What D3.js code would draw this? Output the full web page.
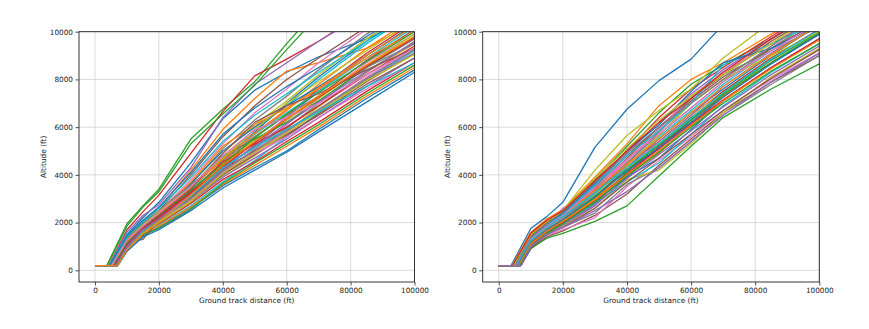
<!DOCTYPE html>
<html>
<meta http-equiv="content-type" content="text/html; charset=utf-8" />
<head>
    <title>Altitude profiles</title>
</head>

<style>
body { margin: 0; background: #fff; }
.axis text {
  font: 7.3px "DejaVu Sans", sans-serif;
  fill: #222;
}
.axis path { display: none; }
.axis line { stroke: #222; stroke-width: 0.8; }
.grid line { stroke: #d0d0d0; stroke-width: 0.8; }
.frame { fill: none; stroke: #222; stroke-width: 0.9; }
.label { font: 7.4px "DejaVu Sans", sans-serif; fill: #222; }
.track { fill: none; stroke-width: 1.3; stroke-linejoin: round; }
</style>

<svg class="chart"></svg>
<script src="https://d3js.org/d3.v7.min.js"></script>

<script type="text/javascript">
  // distances (ft) at which each profile altitude is sampled, after the take-off roll
  var gridX = [10000, 15000, 20000, 30000, 40000, 50000, 60000, 70000, 85000, 100000, 115000];
  var xTicks = [0, 20000, 40000, 60000, 80000, 100000];
  var yTicks = [0, 2000, 4000, 6000, 8000, 10000];
  var groundAlt = 200;

  // each row: [take-off roll end (ft), altitude at each gridX (ft)]
  var leftTracks = [
    [4600, 1500, 2200, 2850, 4500, 6350, 7550, 8300, 8950, 9700, 10600, 11600],
    [5000, 1350, 2050, 2600, 4200, 5900, 7200, 8350, 8700, 9300, 10400, 11500],
    [3700, 1950, 2700, 3400, 5500, 6750, 7900, 9500, 11000, 12600, 14000, 15500],
    [4300, 1700, 2450, 3150, 4900, 6650, 8150, 8850, 9600, 10900, 12000, 13100],
    [4400, 1600, 2300, 2750, 4300, 6400, 7800, 8700, 9600, 10800, 11900, 13000],
    [5200, 1300, 2000, 2500, 4000, 5600, 6900, 8000, 8900, 10200, 11300, 12500],
    [5500, 1200, 1950, 2450, 3800, 5300, 6600, 7600, 8700, 10100, 11400, 12600],
    [5800, 1150, 1900, 2350, 3600, 5100, 6300, 7300, 8400, 9900, 11200, 12400],
    [6000, 1100, 1850, 2300, 3500, 4900, 6100, 7100, 8200, 9700, 11000, 12200],
    [6200, 1050, 1800, 2250, 3400, 4700, 5900, 6900, 8000, 9500, 10800, 12000],
    [5400, 1250, 1900, 2400, 3550, 4600, 5800, 7000, 8100, 9600, 10900, 12100],
    [6500, 1000, 1750, 2200, 3300, 4500, 5700, 6700, 7800, 9300, 10600, 11800],
    [3800, 1850, 2650, 3300, 5300, 6550, 7750, 9250, 10700, 12300, 13800, 15200],
    [6800, 900, 1700, 2150, 3200, 4400, 5600, 6500, 7600, 9100, 10400, 11600],
    [5600, 1150, 1850, 2300, 3250, 4300, 5400, 6400, 7500, 9000, 10300, 11600],
    [6000, 1100, 1800, 2250, 3100, 4200, 5250, 6300, 7300, 8800, 10100, 11400],
    [6300, 1000, 1750, 2200, 3000, 4100, 5100, 6100, 7200, 8700, 9900, 11200],
    [6600, 950, 1650, 2100, 2950, 4000, 4950, 5950, 7000, 8500, 9700, 11000],
    [7000, 850, 1600, 2000, 2850, 3900, 4800, 5800, 6850, 8300, 9500, 10800],
    [7200, 800, 1500, 1900, 2700, 3700, 4600, 5600, 6600, 8000, 9200, 10500],
    [7000, 800, 1450, 1800, 2600, 3550, 4300, 5000, 5900, 7200, 8400, 9700],
    [6800, 850, 1500, 1850, 2650, 3600, 4400, 5200, 6000, 7300, 8500, 9800],
    [6400, 950, 1500, 1750, 2550, 3650, 4500, 5300, 6100, 7400, 8600, 9900],
    [6100, 1000, 1600, 1950, 2800, 3800, 4550, 5400, 6200, 7500, 8700, 10000],
    [5900, 1100, 1650, 2050, 2900, 3900, 4700, 5500, 6400, 7700, 8900, 10200],
    [5700, 1150, 1300, 2100, 2950, 4000, 4850, 5650, 6550, 7900, 9100, 10400],
    [5300, 1250, 1700, 2200, 3050, 4150, 5000, 5800, 6700, 8100, 9300, 10600],
    [4900, 1350, 1800, 2300, 3150, 4300, 5200, 6000, 6900, 8300, 9600, 10900],
    [4700, 1450, 1900, 2400, 3350, 4500, 5450, 6300, 7200, 8600, 9900, 11200],
    [4500, 1500, 2000, 2500, 3500, 4750, 5700, 6600, 7500, 8900, 10200, 11500],
    [5100, 1300, 1950, 2450, 3650, 5000, 6000, 6900, 7700, 9000, 10300, 11600],
    [5400, 1250, 1900, 2400, 3700, 5200, 6100, 6800, 7600, 8900, 10000, 11200],
    [5700, 1150, 1850, 2350, 3450, 4800, 5500, 6200, 7100, 8500, 9800, 11100],
    [6000, 1100, 1750, 2250, 3300, 4550, 5300, 6000, 6900, 8200, 9400, 10600],
    [6300, 1050, 1700, 2200, 3200, 4350, 5150, 5900, 6700, 8000, 9100, 10300],
    [6600, 950, 1650, 2150, 3050, 4250, 5000, 5700, 6500, 7800, 8900, 10100],
    [6900, 900, 1600, 2050, 2950, 4100, 4900, 5600, 6400, 7600, 8700, 9900],
    [5000, 1300, 1950, 2500, 3600, 4600, 5600, 6500, 7300, 8500, 9500, 10600],
    [5200, 1250, 1900, 2450, 3500, 4700, 5900, 7000, 7900, 9200, 10500, 11800],
    [4800, 1400, 2050, 2600, 3900, 5400, 6500, 7400, 8300, 9600, 10800, 12000],
    [4600, 1450, 2100, 2650, 4100, 5700, 6800, 7700, 8500, 9800, 11000, 12200],
    [5500, 1200, 1850, 2350, 3450, 4650, 5750, 6750, 7650, 9000, 10250, 11500],
    [5800, 1150, 1800, 2300, 3350, 4450, 5550, 6550, 7450, 8750, 10000, 11300],
    [6100, 1050, 1750, 2200, 3250, 4350, 5350, 6350, 7250, 8550, 9750, 11000],
    [6400, 1000, 1700, 2150, 3150, 4250, 5200, 6150, 7050, 8350, 9550, 10800],
    [5900, 1100, 1800, 2300, 3400, 4900, 6200, 6900, 7400, 8400, 9300, 10300],
    [5300, 1250, 1850, 2400, 3500, 4800, 5900, 6400, 7000, 8200, 9300, 10400],
    [6700, 900, 1650, 2100, 3000, 4150, 5050, 5850, 6750, 8050, 9250, 10500],
    [7100, 800, 1550, 2000, 2900, 4050, 4950, 5750, 6650, 7950, 9050, 10300],
    [7000, 850, 1600, 2050, 3100, 4300, 5150, 5900, 6650, 7700, 8700, 9800],
    [6900, 800, 1400, 1700, 2500, 3450, 4200, 4950, 5800, 7050, 8300, 9550],
    [7000, 850, 1550, 2050, 3150, 4400, 5400, 6350, 7300, 8600, 9800, 11000]
  ];

  var rightTracks = [
    [3850, 1750, 2250, 2850, 5150, 6750, 7950, 8850, 10300, 11800, 13200, 14600],
    [4200, 1600, 2150, 2550, 3900, 5300, 6900, 8000, 8700, 9900, 11000, 12200],
    [4800, 1450, 2050, 2450, 3800, 5200, 6600, 7800, 8600, 9700, 10800, 12000],
    [5000, 1400, 2000, 2400, 3700, 5000, 6400, 7600, 8500, 9800, 11000, 12300],
    [5200, 1350, 1950, 2350, 3600, 4900, 6200, 7400, 8400, 9700, 10900, 12200],
    [5400, 1300, 1900, 2300, 3500, 4800, 6000, 7200, 8200, 9600, 10800, 12100],
    [5600, 1250, 1850, 2600, 3450, 4600, 5800, 7000, 8000, 9400, 10700, 12000],
    [5800, 1200, 1800, 2200, 3300, 4500, 5700, 6800, 7900, 9300, 10600, 11900],
    [4500, 1500, 2100, 2500, 4200, 5650, 6700, 7600, 8900, 10400, 11800, 13200],
    [6000, 1150, 1750, 2150, 3200, 4400, 5600, 6700, 7800, 9200, 10500, 11800],
    [6200, 1100, 1700, 2100, 3100, 4300, 5500, 6600, 7600, 9000, 10300, 11600],
    [6400, 1050, 1650, 2050, 3000, 4200, 5400, 6500, 7500, 8900, 10100, 11400],
    [6600, 1000, 1600, 2000, 2900, 4100, 5300, 6400, 7400, 8800, 10000, 11300],
    [6800, 950, 1550, 1950, 2800, 4000, 5200, 6300, 7300, 8700, 9900, 11100],
    [7000, 900, 1500, 1850, 2700, 3900, 5000, 6100, 7100, 8500, 9700, 10900],
    [6500, 950, 1400, 1650, 2300, 3200, 4400, 5500, 6600, 7900, 9000, 10100],
    [6300, 1000, 1450, 1700, 2200, 3500, 4600, 5600, 6700, 8000, 9100, 10200],
    [6000, 1050, 1500, 1800, 2400, 3600, 4300, 5400, 6500, 7800, 9000, 10200],
    [5800, 1100, 1550, 1850, 2600, 3800, 4200, 5300, 6600, 8100, 9300, 10500],
    [5500, 1200, 1650, 1950, 2800, 3700, 4500, 5700, 6900, 8300, 9500, 10700],
    [5300, 1250, 1700, 2000, 2900, 3900, 4700, 5900, 7100, 8500, 9700, 10900],
    [5100, 1300, 1800, 2100, 3000, 4000, 4900, 6100, 7300, 8700, 9900, 11100],
    [6700, 900, 1350, 1550, 2050, 2700, 3950, 5200, 6400, 7600, 8650, 9700],
    [4900, 1350, 1850, 2200, 3100, 4200, 5100, 6300, 7500, 8900, 10100, 11300],
    [4700, 1400, 1900, 2300, 3300, 4400, 5400, 6500, 7700, 9100, 10300, 11500],
    [5600, 1250, 1800, 2250, 3400, 4700, 6000, 7100, 8100, 9300, 10400, 11500],
    [5900, 1150, 1750, 2200, 3300, 4600, 5900, 7300, 8300, 9500, 10600, 11700],
    [6100, 1100, 1700, 2150, 3250, 4500, 5800, 7200, 8200, 9200, 10200, 11300],
    [6300, 1050, 1650, 2100, 3150, 4350, 5650, 7000, 8000, 9000, 10000, 11100],
    [5200, 1300, 1900, 2350, 3550, 4800, 5850, 7000, 8600, 9500, 10400, 11400],
    [5000, 1350, 1950, 2400, 3650, 5000, 6100, 7500, 8700, 9300, 10300, 11400],
    [5700, 1200, 1800, 2250, 3350, 4450, 5500, 6600, 7700, 9050, 10300, 11500],
    [6100, 1100, 1700, 2100, 3050, 4200, 5250, 6300, 7350, 8700, 9950, 11200],
    [6400, 1050, 1650, 2000, 2950, 4050, 5100, 6150, 7150, 8500, 9700, 10900],
    [6700, 1000, 1550, 1900, 2750, 3850, 4850, 5850, 6850, 8200, 9400, 10600],
    [6900, 950, 1500, 1800, 2600, 3700, 4700, 5700, 6700, 8050, 9250, 10450],
    [5400, 1300, 1850, 2300, 3450, 4650, 5700, 6800, 7900, 9200, 10400, 11600],
    [5000, 1400, 1950, 2450, 3700, 4900, 6000, 7000, 8000, 9400, 10700, 12000],
    [4600, 1500, 2050, 2500, 3850, 5100, 6300, 7300, 8200, 9500, 10800, 12100],
    [5500, 1250, 1800, 2250, 3250, 4300, 5300, 6350, 7450, 8850, 10100, 11300],
    [5900, 1150, 1700, 2100, 3100, 4150, 5150, 6200, 7250, 8650, 9900, 11100],
    [6200, 1100, 1650, 2050, 2950, 4000, 5000, 6050, 7100, 8450, 9650, 10850],
    [6600, 1000, 1550, 1950, 2850, 3950, 4950, 6000, 7000, 8350, 9500, 10700],
    [4300, 1550, 2100, 2500, 3750, 5000, 6200, 7200, 8300, 9700, 11000, 12300],
    [7000, 1000, 1500, 1800, 2500, 3300, 4300, 5400, 6500, 7900, 9100, 10300]
  ];

  var colors = ["#1f77b4", "#ff7f0e", "#2ca02c", "#d62728", "#9467bd",
                "#8c564b", "#e377c2", "#7f7f7f", "#bcbd22", "#17becf"];

  var width = 869, height = 329;
  var panels = [
    {tracks: leftTracks, x0: 79, x1: 414.5, ylabelX: 43.5},
    {tracks: rightTracks, x0: 482.7, x1: 819.3, ylabelX: 447.5}
  ];
  var plotTop = 31.7, plotBottom = 282;

  var svg = d3.select(".chart")
    .attr("width", width)
    .attr("height", height);

  function toPoints(row) {
    var pts = [[0, groundAlt], [row[0], groundAlt]];
    for (var i = 0; i < gridX.length; i++) pts.push([gridX[i], row[i + 1]]);
    return pts;
  }

  panels.forEach(function(p, k) {
    var xScale = d3.scaleLinear().domain([-5000, 100000]).range([p.x0, p.x1]);
    var yScale = d3.scaleLinear().domain([-490, 10000]).range([plotBottom, plotTop]);

    var g = svg.append("g");

    // grid
    g.append("g").attr("class", "grid")
      .selectAll("line").data(xTicks).enter().append("line")
      .attr("x1", function(d) { return xScale(d); })
      .attr("x2", function(d) { return xScale(d); })
      .attr("y1", plotTop).attr("y2", plotBottom);
    g.append("g").attr("class", "grid")
      .selectAll("line").data(yTicks).enter().append("line")
      .attr("y1", function(d) { return yScale(d); })
      .attr("y2", function(d) { return yScale(d); })
      .attr("x1", p.x0).attr("x2", p.x1);

    g.append("clipPath").attr("id", "clip" + k)
      .append("rect")
      .attr("x", p.x0).attr("y", plotTop)
      .attr("width", p.x1 - p.x0).attr("height", plotBottom - plotTop);

    var line = d3.line()
      .x(function(d) { return xScale(d[0]); })
      .y(function(d) { return yScale(d[1]); });

    g.append("g").attr("clip-path", "url(#clip" + k + ")")
      .selectAll("path").data(p.tracks).enter().append("path")
      .attr("class", "track")
      .attr("stroke", function(d, i) { return colors[i % 10]; })
      .attr("d", function(d) { return line(toPoints(d)); });

    g.append("rect").attr("class", "frame")
      .attr("x", p.x0).attr("y", plotTop)
      .attr("width", p.x1 - p.x0).attr("height", plotBottom - plotTop);

    g.append("g").attr("class", "x axis")
      .attr("transform", "translate(0," + plotBottom + ")")
      .call(d3.axisBottom(xScale).tickValues(xTicks).tickFormat(d3.format("d"))
        .tickSize(3.5).tickPadding(2.5));

    g.append("g").attr("class", "y axis")
      .attr("transform", "translate(" + p.x0 + ",0)")
      .call(d3.axisLeft(yScale).tickValues(yTicks).tickFormat(d3.format("d"))
        .tickSize(3.5).tickPadding(2.5));

    g.append("text").attr("class", "label")
      .attr("x", (p.x0 + p.x1) / 2).attr("y", 303)
      .style("text-anchor", "middle")
      .text("Ground track distance (ft)");

    g.append("text").attr("class", "label")
      .attr("transform", "translate(" + p.ylabelX + "," + ((plotTop + plotBottom) / 2) + ") rotate(-90)")
      .attr("dy", "0.35em")
      .style("text-anchor", "middle")
      .text("Altitude (ft)");
  });
</script>

</html>
